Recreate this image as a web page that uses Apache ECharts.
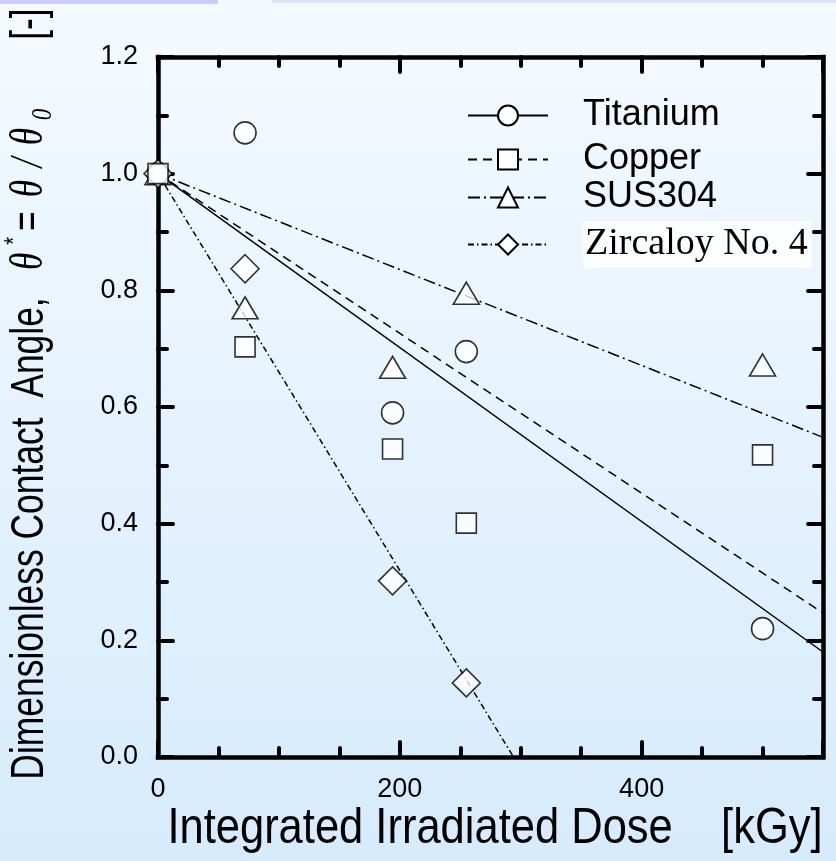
<!DOCTYPE html>
<html><head><meta charset="utf-8">
<script src="https://cdn.jsdelivr.net/npm/echarts@6/dist/echarts.min.js"></script>
<style>html,body{margin:0;padding:0;background:#fff;}#c{width:836px;height:861px;}</style>
</head><body><div id="c"></div>
<script>
// ---- data ----
const seriesNames = ['Titanium', 'Copper', 'SUS304', 'Zircaloy No. 4'];
const doseTi = [0, 72, 194, 255, 500];
const thetaTi = [1.0, 1.07, 0.59, 0.695, 0.22];
const doseCu = [0, 72, 194, 255, 500];
const thetaCu = [1.0, 0.703, 0.528, 0.401, 0.518];
const doseSUS = [0, 72, 194, 255, 500];
const thetaSUS = [1.0, 0.77, 0.668, 0.795, 0.672];
const doseZr = [0, 72, 194, 255];
const thetaZr = [1.0, 0.837, 0.302, 0.127];
// fitted straight lines (end points)
const fitTiX = [0, 550], fitTiY = [1.0, 0.18];
const fitCuX = [0, 550], fitCuY = [1.0, 0.247];
const fitSUSX = [0, 550], fitSUSY = [1.0, 0.548];
const fitZrX = [0, 294], fitZrY = [1.0, 0.0];
const xTicks = [0, 200, 400];
const yTicks = [0.0, 0.2, 0.4, 0.6, 0.8, 1.0, 1.2];
const xTitle = 'Integrated Irradiated Dose    [kGy]';
const yTitle = 'Dimensionless Contact  Angle,  {it|θ}{sup|*}{eq|=}{it|θ}{sl|/}{it|θ}{sub|0}       [-]';

const pairs = (xs, ys) => xs.map((x, i) => [x, ys[i]]);
const SANS = "'Liberation Sans', Arial, sans-serif";
const SERIF = "'Liberation Serif', 'Times New Roman', serif";

const mats = [
  {name: seriesNames[0], pts: pairs(doseTi, thetaTi), fit: pairs(fitTiX, fitTiY), symbol: 'circle', size: 22, dash: 'solid', cy: 110, font: SANS, fs: 36},
  {name: seriesNames[1], pts: pairs(doseCu, thetaCu), fit: pairs(fitCuX, fitCuY), symbol: 'rect', size: 20, dash: [9, 6], cy: 154, font: SANS, fs: 36},
  {name: seriesNames[2], pts: pairs(doseSUS, thetaSUS), fit: pairs(fitSUSX, fitSUSY), symbol: 'triangle', size: [26, 22], dash: [12, 4, 2, 4], cy: 192, font: SANS, fs: 36},
  {name: seriesNames[3], pts: pairs(doseZr, thetaZr), fit: pairs(fitZrX, fitZrY), symbol: 'diamond', size: 28, dash: [6, 3, 1.5, 3], cy: 234, font: SERIF, fs: 38}
];

const itemStyle = {color: '#fff', borderColor: '#000', borderWidth: 1.6};
const series = [];
mats.forEach(m => {
  series.push({type: 'line', name: m.name, data: m.fit, symbol: m.symbol, symbolSize: m.size,
    showSymbol: false, silent: true, lineStyle: {color: '#000', width: 1.5, type: m.dash},
    itemStyle: itemStyle, z: 2});
});
[0, 2, 3, 1].forEach(i => {
  const m = mats[i];
  series.push({type: 'scatter', name: m.name, data: m.pts, symbol: m.symbol, symbolSize: m.size,
    itemStyle: itemStyle, z: 3});
});

const legends = mats.map(m => ({
  data: [{name: m.name}], left: 467, top: m.cy - 12.5, padding: 0, orient: 'vertical',
  itemWidth: 80, itemHeight: 25, selectedMode: false,
  formatter: n => '{s|}{t|' + n + '}',
  textStyle: {rich: {
    s: {width: 30},
    t: m.symbol === 'diamond'
      ? {fontFamily: m.font, fontSize: m.fs, color: '#000', backgroundColor: '#fbfdff', padding: [4, 4, 4, 2]}
      : {fontFamily: m.font, fontSize: m.fs, color: '#000'}
  }}
}));

const axisLine = {show: true, onZero: false, lineStyle: {color: '#000', width: 4.5, cap: 'square'}};
const tickStyle = {color: '#000', width: 4, cap: 'round'};

const option = {
  animation: false,
  backgroundColor: {type: 'linear', x: 0, y: 0, x2: 0, y2: 1,
    colorStops: [{offset: 0, color: '#f5faff'}, {offset: 1, color: '#d6ebfc'}]},
  grid: {left: 158, right: 13, top: 57, bottom: 104, containLabel: false, outerBoundsMode: 'none'},
  graphic: [
    {type: 'rect', left: 0, top: 0, shape: {width: 218, height: 4}, style: {fill: '#cbcdf4'}, silent: true},
    {type: 'rect', left: 272, top: 0, shape: {width: 564, height: 3}, style: {fill: '#dfe3f8'}, silent: true},
    {type: 'text', x: 495, y: 829, scaleX: 0.87, silent: true,
     style: {text: xTitle, font: "50px 'Liberation Sans', Arial, sans-serif", fill: '#000', align: 'center', verticalAlign: 'middle'}},
    {type: 'text', x: 30, y: 394, rotation: Math.PI / 2, scaleX: 0.77, silent: true,
     style: {text: yTitle, font: "46px 'Liberation Sans', Arial, sans-serif", fill: '#000', align: 'center', verticalAlign: 'middle',
       rich: {
         it: {fontSize: 46, fontFamily: SERIF, fontStyle: 'italic', fill: '#000', padding: [0, 10, 0, 10]},
         eq: {fontSize: 44, fontFamily: SANS, fill: '#000', padding: [0, 8, 0, 8]},
         sl: {fontSize: 46, fontFamily: SERIF, fontStyle: 'italic', fill: '#000', padding: [0, 6, 0, 6]},
         sup: {fontSize: 26, fontFamily: SANS, fill: '#000', verticalAlign: 'top', lineHeight: 56},
         sub: {fontSize: 30, fontFamily: SERIF, fontStyle: 'italic', fill: '#000', verticalAlign: 'bottom', lineHeight: 46}
       }}}
  ],
  legend: legends,
  xAxis: [
    {type: 'value', min: 0, max: 550, interval: 200, position: 'bottom', axisLine,
     axisTick: {show: true, inside: true, length: 15, lineStyle: tickStyle},
     minorTick: {show: true, splitNumber: 4, length: 9, lineStyle: tickStyle},
     splitLine: {show: false}, minorSplitLine: {show: false},
     axisLabel: {showMaxLabel: false, margin: 19, fontSize: 27, color: '#000', fontFamily: SANS,
       formatter: v => xTicks.includes(v) ? String(v) : ''}},
    {type: 'value', min: 0, max: 550, interval: 200, position: 'top', axisLine,
     axisTick: {show: true, inside: true, length: 15, lineStyle: tickStyle},
     minorTick: {show: true, splitNumber: 4, length: 9, lineStyle: tickStyle},
     splitLine: {show: false}, axisLabel: {show: false}}
  ],
  yAxis: [
    {type: 'value', min: 0, max: 1.2, interval: 0.2, position: 'left', axisLine,
     axisTick: {show: true, inside: true, length: 15, lineStyle: tickStyle},
     minorTick: {show: true, splitNumber: 2, length: 9, lineStyle: tickStyle},
     splitLine: {show: false},
     axisLabel: {margin: 20, fontSize: 27, color: '#000', fontFamily: SANS,
       formatter: v => yTicks.some(t => Math.abs(t - v) < 1e-9) ? v.toFixed(1) : ''}},
    {type: 'value', min: 0, max: 1.2, interval: 0.2, position: 'right', axisLine,
     axisTick: {show: true, inside: true, length: 15, lineStyle: tickStyle},
     minorTick: {show: true, splitNumber: 2, length: 9, lineStyle: tickStyle},
     splitLine: {show: false}, axisLabel: {show: false}}
  ],
  series
};
const chart = echarts.init(document.getElementById('c'), null, {renderer: 'canvas'});
chart.setOption(option);
</script>
</body></html>
